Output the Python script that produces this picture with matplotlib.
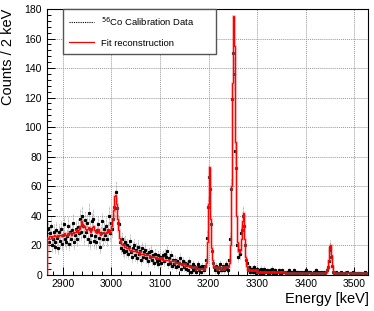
import matplotlib
matplotlib.use("Agg")
import matplotlib.pyplot as plt
from matplotlib.ticker import MultipleLocator
import numpy as np

plt.rcParams['font.family'] = ['Liberation Sans', 'DejaVu Sans']

# bin centres, 2 keV wide
energia = np.arange(2869, 3528, 2)

fit = [25, 25, 26, 26, 25, 26, 26, 27, 26, 26,
       27, 26, 27, 27, 26, 27, 27, 28, 27, 27,
       28, 27, 28, 28, 27, 28, 29, 28, 29, 29,
       30, 29, 30, 31, 33, 36, 34, 32, 33, 31,
       30, 31, 32, 30, 29, 30, 32, 33, 30, 29,
       28, 29, 31, 28, 27, 28, 28, 29, 28, 28,
       29, 28, 29, 30, 29, 30, 33, 37, 44, 53,
       54, 48, 38, 30, 25, 23, 21, 20, 20, 19,
       19, 18, 18, 18, 17, 17, 17, 16, 16, 16,
       16, 15, 15, 15, 15, 14, 14, 14, 14, 14,
       13, 13, 13, 13, 13, 13, 12, 12, 12, 12,
       12, 12, 11, 11, 11, 11, 11, 11, 10, 10,
       10, 10, 10, 10, 10, 9, 9, 9, 9, 9,
       9, 8, 8, 8, 8, 8, 7, 7, 7, 7,
       7, 7, 6, 6, 6, 6, 6, 5, 5, 5,
       5, 5, 5, 4, 4, 4, 4, 4, 4, 4,
       4, 4, 5, 8, 22, 48, 73, 62, 38, 18,
       10, 6, 5, 5, 5, 4, 4, 5, 5, 4,
       4, 4, 5, 5, 5, 5, 5, 8, 20, 60,
       130, 175, 155, 90, 40, 22, 16, 15, 17, 24,
       36, 42, 38, 24, 12, 6, 4, 3, 3, 3,
       3, 3, 3, 3, 3, 3, 2, 2, 2, 2,
       2, 2, 2, 2, 2, 2, 2, 2, 2, 2,
       2, 2, 2, 2, 2, 2, 2, 2, 2, 2,
       2, 2, 2, 2, 2, 1, 1, 1, 1, 1,
       1, 1, 1, 1, 1, 1, 1, 1, 1, 1,
       1, 1, 1, 1, 1, 1, 1, 1, 1, 1,
       1, 1, 1, 1, 1, 1, 1, 1, 1, 1,
       1, 1, 1, 1, 1, 1, 1, 2, 4, 10,
       18, 20, 13, 5, 2, 1, 1, 1, 1, 1,
       1, 1, 1, 1, 1, 1, 1, 1, 1, 1,
       1, 1, 1, 1, 1, 1, 1, 1, 1, 1,
       1, 1, 1, 1, 1, 1, 1, 1, 1, 1]

podaci = [31, 22, 28, 33, 20, 24, 29, 19, 22, 30,
          25, 18, 29, 23, 31, 21, 27, 34, 24, 22,
          26, 33, 21, 29, 24, 30, 35, 22, 27, 31,
          24, 32, 28, 38, 29, 40, 33, 26, 37, 29,
          35, 24, 42, 31, 22, 27, 36, 38, 23, 26,
          22, 30, 34, 25, 19, 28, 36, 24, 31, 27,
          33, 24, 30, 40, 28, 35, 31, 38, 46, 45,
          56, 45, 35, 34, 22, 18, 24, 17, 21, 15,
          22, 16, 20, 14, 19, 23, 15, 12, 18, 20,
          13, 17, 11, 19, 14, 16, 10, 18, 12, 15,
          17, 11, 14, 9, 15, 12, 16, 10, 13, 8,
          14, 11, 9, 13, 7, 10, 12, 8, 11, 13,
          9, 14, 12, 16, 7, 11, 8, 13, 6, 10,
          7, 10, 5, 9, 6, 8, 11, 4, 7, 9,
          5, 8, 4, 7, 3, 9, 6, 2, 5, 7,
          3, 6, 4, 2, 5, 7, 3, 5, 2, 6,
          5, 3, 6, 10, 25, 46, 66, 58, 34, 16,
          8, 5, 3, 6, 4, 2, 5, 7, 3, 4,
          6, 3, 5, 7, 4, 6, 3, 10, 24, 58,
          119, 150, 136, 84, 72, 20, 12, 17, 14, 28,
          30, 40, 33, 20, 10, 8, 3, 5, 2, 4,
          4, 2, 5, 3, 1, 4, 2, 3, 1, 4,
          2, 3, 1, 4, 2, 0, 3, 2, 1, 3,
          2, 4, 1, 2, 3, 1, 2, 0, 3, 1,
          1, 3, 2, 0, 2, 1, 2, 1, 3, 1,
          2, 0, 1, 3, 1, 2, 0, 1, 2, 1,
          1, 2, 0, 1, 2, 1, 3, 1, 0, 2,
          2, 1, 1, 0, 2, 1, 3, 1, 2, 0,
          1, 2, 0, 1, 2, 1, 0, 3, 5, 9,
          17, 19, 12, 6, 2, 1, 0, 2, 1, 0,
          1, 0, 2, 1, 0, 1, 0, 1, 2, 0,
          0, 1, 1, 0, 2, 1, 0, 1, 0, 1,
          1, 0, 1, 0, 0, 1, 2, 0, 1, 0]

fit = np.array(fit, dtype=float)
podaci = np.array(podaci, dtype=float)

fig = plt.figure(figsize=(3.74, 3.11), dpi=100)
ax = fig.add_axes([0.125, 0.117, 0.860, 0.854])

ima = podaci > 0
x = energia[ima]
y = podaci[ima]
greske = ax.errorbar(x, y, yerr=np.sqrt(y), fmt='s', ms=1.3, color='black',
                     ecolor='#777777', elinewidth=0.5, capsize=0, zorder=3)
greske[2][0].set_linestyle((0, (1, 1)))

# fit drawn as a histogram with a faint band
rubovi = np.append(energia - 1, energia[-1] + 1)
ax.stairs(fit, rubovi, color='#ff8080', lw=2.2, alpha=0.4, zorder=4)
ax.stairs(fit, rubovi, color='#ff0000', lw=0.9, zorder=5)

ax.plot([], [], color='black', ls=(0, (1, 1)), lw=0.8, label=r'$^{56}$Co Calibration Data')
ax.plot([], [], color='#ff0000', lw=0.9, label='Fit reconstruction')

ax.set_xlim(2867, 3529)
ax.set_ylim(0, 180)
ax.xaxis.set_major_locator(MultipleLocator(100))
ax.xaxis.set_minor_locator(MultipleLocator(20))
ax.yaxis.set_major_locator(MultipleLocator(20))
ax.yaxis.set_minor_locator(MultipleLocator(4))
ax.tick_params(which='both', direction='in', labelsize=7.5, width=0.7)
ax.tick_params(which='major', length=6)
ax.tick_params(which='minor', length=3)
ax.grid(True, which='major', color='#999999', ls=(0, (1, 1)), lw=0.7)
for s in ax.spines.values():
    s.set_linewidth(0.8)

ax.set_ylabel('Counts / 2 keV', fontsize=10.5, loc='top')
ax.yaxis.set_label_coords(-0.10, 1.0)
ax.set_xlabel('Energy [keV]', fontsize=10.5, loc='right')
ax.xaxis.set_label_coords(1.0, -0.065)

leg = ax.legend(loc='upper left', bbox_to_anchor=(0.051, 0.834, 0.475, 0.166),
                mode='expand', fontsize=6.8, fancybox=False, edgecolor='#555555',
                framealpha=1, borderpad=0.65, labelspacing=1.15, handlelength=2.65,
                handletextpad=0.7, borderaxespad=0)
leg.get_frame().set_linewidth(1.0)

plt.savefig('out.png', dpi=100)
